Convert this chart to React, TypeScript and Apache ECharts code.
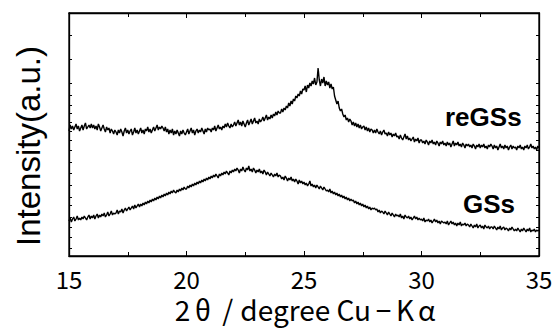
import React, { useEffect, useRef } from "react";
import * as echarts from "echarts";

// 2θ grid: 15.00 .. 35.00 in 0.05° steps
const thetaStart = 15;
const thetaStep = 0.05;

// reGSs intensity (a.u., offset trace), one row per degree
const reGSs = [
  125, 131, 127, 130, 126, 129, 132, 127, 130, 125, 128, 131, 126, 130, 133, 127, 129, 131, 128, 132,
  128, 131, 127, 130, 126, 132, 129, 125, 128, 131, 127, 124, 129, 126, 128, 123, 127, 125, 122, 126,
  124, 121, 126, 123, 127, 124, 120, 125, 128, 123, 126, 122, 125, 127, 121, 124, 128, 123, 126, 122,
  125, 128, 123, 126, 122, 127, 125, 129, 124, 127, 123, 126, 129, 125, 128, 131, 126, 129, 127, 130,
  128, 125, 129, 124, 127, 122, 126, 123, 127, 121, 125, 122, 126, 123, 120, 125, 122, 126, 123, 121,
  124, 127, 122, 125, 128, 123, 126, 121, 125, 127, 123, 126, 124, 128, 125, 122, 127, 124, 128, 126,
  127, 124, 128, 126, 130, 125, 128, 131, 127, 129, 126, 130, 128, 132, 129, 133, 130, 128, 132, 129,
  131, 134, 130, 133, 136, 131, 134, 130, 135, 132, 129, 133, 136, 131, 134, 137, 132, 135, 138, 133,
  135, 132, 137, 134, 136, 139, 135, 138, 141, 136, 139, 137, 141, 138, 142, 140, 144, 141, 145, 143,
  143, 147, 144, 148, 146, 150, 148, 153, 150, 155, 152, 157, 155, 160, 158, 162, 160, 165, 162, 167,
  166, 170, 164, 171, 168, 173, 170, 175, 172, 178, 171, 174, 188, 176, 170, 177, 173, 179, 170, 175,
  171, 174, 168, 172, 167, 169, 160, 156, 152, 155, 148, 145, 147, 142, 139, 141, 136, 138, 134, 137,
  135, 131, 134, 130, 133, 129, 132, 128, 131, 127, 129, 130, 126, 129, 125, 128, 124, 127, 126, 123,
  126, 123, 127, 124, 122, 125, 121, 124, 126, 122, 123, 120, 124, 121, 123, 119, 122, 120, 123, 119,
  120, 117, 121, 118, 116, 119, 122, 117, 120, 116, 118, 115, 117, 119, 114, 117, 115, 118, 113, 116,
  116, 113, 115, 112, 116, 114, 111, 115, 113, 116, 112, 114, 111, 115, 113, 110, 114, 112, 115, 111,
  113, 110, 114, 111, 113, 109, 112, 115, 110, 113, 111, 114, 110, 112, 109, 113, 111, 108, 112, 110,
  112, 109, 111, 108, 112, 110, 107, 111, 109, 112, 108, 111, 109, 112, 108, 110, 107, 111, 109, 112,
  110, 107, 111, 108, 110, 106, 109, 112, 108, 110, 107, 111, 108, 110, 106, 109, 111, 107, 110, 108,
  109, 106, 110, 108, 111, 107, 109, 106, 110, 108, 111, 107, 109, 112, 108, 110, 107, 109, 106, 110,
  108,
];

// GSs intensity (a.u.), one row per degree
const GSs = [
  35, 38, 34, 37, 39, 35, 37, 40, 36, 38, 36, 39, 37, 40, 38, 36, 39, 41, 37, 40,
  38, 41, 37, 40, 42, 38, 41, 39, 42, 40, 43, 39, 41, 44, 40, 42, 45, 41, 43, 42,
  43, 46, 42, 45, 44, 47, 43, 46, 48, 45, 47, 49, 46, 48, 50, 47, 51, 48, 50, 52,
  49, 52, 50, 53, 51, 54, 52, 55, 53, 56, 54, 57, 55, 58, 56, 59, 57, 60, 58, 61,
  59, 62, 60, 63, 61, 64, 62, 65, 63, 66, 64, 63, 66, 64, 67, 65, 68, 66, 69, 67,
  67, 70, 68, 71, 69, 72, 70, 73, 71, 74, 72, 75, 73, 76, 74, 77, 75, 78, 76, 79,
  77, 80, 78, 81, 79, 82, 80, 78, 82, 80, 83, 81, 84, 82, 85, 83, 81, 85, 83, 86,
  84, 87, 85, 88, 86, 83, 87, 85, 89, 86, 84, 88, 86, 90, 85, 87, 84, 88, 86, 83,
  86, 84, 87, 83, 85, 82, 86, 84, 81, 84, 82, 80, 83, 81, 79, 82, 80, 83, 79, 81,
  80, 77, 79, 76, 80, 78, 75, 78, 76, 79, 75, 77, 74, 77, 75, 72, 76, 73, 75, 72,
  74, 71, 73, 70, 72, 75, 70, 72, 69, 71, 68, 71, 69, 67, 70, 68, 66, 69, 67, 65,
  66, 64, 67, 63, 65, 62, 64, 61, 63, 60, 62, 59, 61, 58, 60, 57, 59, 56, 58, 55,
  57, 55, 56, 53, 55, 52, 54, 51, 53, 50, 52, 49, 51, 48, 50, 47, 49, 46, 48, 47,
  48, 46, 47, 44, 46, 43, 45, 44, 42, 45, 43, 41, 44, 42, 40, 43, 41, 39, 42, 40,
  41, 39, 42, 38, 40, 37, 41, 39, 38, 40, 37, 39, 36, 38, 40, 37, 39, 36, 38, 36,
  37, 35, 38, 34, 36, 35, 37, 34, 36, 33, 35, 37, 34, 36, 33, 35, 32, 35, 34, 33,
  34, 32, 35, 31, 33, 35, 32, 34, 31, 33, 30, 33, 31, 34, 30, 32, 31, 33, 30, 32,
  31, 29, 32, 30, 28, 31, 29, 32, 28, 30, 31, 28, 30, 27, 31, 29, 28, 30, 27, 29,
  29, 27, 30, 28, 26, 29, 27, 30, 26, 28, 29, 26, 28, 27, 25, 28, 26, 29, 27, 25,
  27, 25, 28, 26, 24, 27, 25, 28, 26, 24, 27, 25, 28, 24, 26, 25, 27, 24, 26, 25,
  26,
];

// y-axis minor tick positions (a.u.)
const yTickValues = [8, 19, 29, 39, 51, 59, 71, 83, 94, 106, 116, 125, 134, 143, 151, 161, 173, 197, 221];

const xMin = 15;
const xMax = 35;
const xInterval = 5;
const yMin = 0;
const yMax = 243;

const toPairs = (arr: number[]) =>
  arr.map((v, i) => [Number((thetaStart + i * thetaStep).toFixed(2)), v]);

export default function App() {
  const ref = useRef<HTMLDivElement>(null);
  useEffect(() => {
    if (!ref.current) return;
    const chart = echarts.init(ref.current, null, { renderer: "svg" });
    const lineCol = "#000";
    const xAxisBase = {
      type: "value" as const,
      show: true,
      gridIndex: 0,
      min: xMin,
      max: xMax,
      interval: xInterval,
      splitLine: { show: false },
      axisLine: { show: true, onZero: false, lineStyle: { color: lineCol, width: 1.3 } },
      axisTick: { show: true, inside: true, length: 5, lineStyle: { color: lineCol } },
      minorTick: { show: true, splitNumber: 2, length: 4, lineStyle: { color: lineCol } },
    };
    const yAxisBase = {
      type: "value" as const,
      min: yMin,
      max: yMax,
      splitLine: { show: false },
      axisLabel: { show: false },
      axisLine: { show: true, onZero: false, lineStyle: { color: lineCol, width: 1.3 } },
      axisTick: { show: true, inside: true, length: 3, customValues: yTickValues, lineStyle: { color: lineCol } },
    };
    const fw = 28;
    const font = "Noto Sans CJK JP";
    chart.setOption({
      animation: false,
      grid: {
        show: true,
        borderColor: "#000",
        borderWidth: 1.3,
        left: 69,
        right: 17,
        top: 13,
        bottom: 72,
        containLabel: false,
      },
      xAxis: [
        {
          ...xAxisBase,
          position: "bottom",
          axisLabel: {
            show: true,
            color: "#000",
            fontSize: 24,
            lineHeight: 24,
            fontFamily: font,
            margin: 10,
          },
        },
        { ...xAxisBase, position: "top", axisLabel: { show: false } },
      ],
      yAxis: [
        { ...yAxisBase, position: "left" },
        { ...yAxisBase, position: "right" },
      ],
      series: [
        {
          name: "reGSs",
          type: "line",
          data: toPairs(reGSs),
          showSymbol: false,
          lineStyle: { color: "#000", width: 1.4 },
        },
        {
          name: "GSs",
          type: "line",
          data: toPairs(GSs),
          showSymbol: false,
          lineStyle: { color: "#000", width: 1.4 },
        },
      ],
      graphic: [
        {
          type: "text",
          x: 28,
          y: 146,
          rotation: Math.PI / 2,
          style: {
            text: "Intensity(a.u.)",
            fontSize: 33,
            fontFamily: "Liberation Sans",
            fill: "#000",
            align: "center",
            verticalAlign: "middle",
          },
        },
        {
          type: "text",
          x: 307,
          y: 309,
          style: {
            text: "{n|2}{f|θ}{f|/}{n|degree Cu}{f|−}{n|K}{f|α}",
            fontSize: fw,
            fontFamily: font,
            fill: "#000",
            align: "center",
            verticalAlign: "middle",
            rich: {
              n: { fontSize: fw, fontFamily: font, fill: "#000" },
              f: { fontSize: fw, fontFamily: font, fill: "#000", width: 25, align: "center" },
            },
          },
        },
        {
          type: "text",
          x: 445,
          y: 117,
          style: {
            text: "reGSs",
            fontSize: 26,
            fontWeight: "bold",
            fontFamily: "Liberation Sans",
            fill: "#000",
            align: "left",
            verticalAlign: "middle",
          },
        },
        {
          type: "text",
          x: 463,
          y: 204,
          style: {
            text: "GSs",
            fontSize: 26,
            fontWeight: "bold",
            fontFamily: "Liberation Sans",
            fill: "#000",
            align: "left",
            verticalAlign: "middle",
          },
        },
      ],
    });
    return () => chart.dispose();
  }, []);
  return (
    <div
      ref={ref}
      style={{ position: "fixed", left: 0, top: 0, width: 556, height: 328, background: "#fff" }}
    />
  );
}
